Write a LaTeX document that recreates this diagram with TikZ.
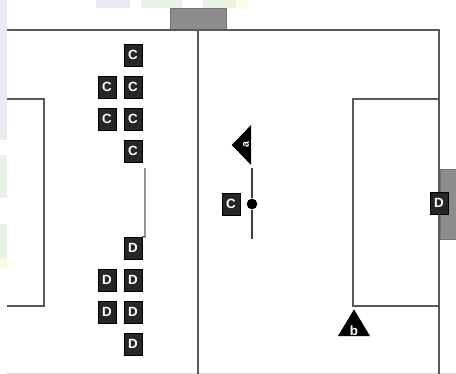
\documentclass[tikz,border=0pt]{standalone}
\usepackage{fontspec}
\setmainfont{Liberation Sans}
\definecolor{paleblue}{RGB}{232,236,240}
\definecolor{palegreen}{RGB}{232,243,228}
\definecolor{paleyellow}{RGB}{253,250,228}
\tikzset{
    player/.style={draw=black, fill=black!85, text=white, inner sep=0pt, minimum width=13.5pt, minimum height=16.5pt, font=\bfseries},
    pitchline/.style={draw=black!65, line width=1.1pt},
    post/.style={fill=black!45, draw=black!55, line width=0.5pt},
    official/.style={draw=none, fill=black, text=white, isosceles triangle, isosceles triangle stretches=true, inner sep=0pt}
}
\usetikzlibrary{shapes.geometric}
\begin{document}
\begin{tikzpicture}[x=0.75pt, y=-0.75pt]
    \useasboundingbox (0,0) rectangle (456,374);

    % Faint patches at the edges
    \fill[paleblue] (96,0) rectangle (130,8);
    \fill[palegreen] (141,0) rectangle (182,8);
    \fill[palegreen] (203,0) rectangle (236,8);
    \fill[paleyellow] (236,0) rectangle (248,8);
    \fill[paleblue] (0,0) rectangle (7,140);
    \fill[palegreen] (0,155) rectangle (7,198);
    \fill[palegreen] (0,224) rectangle (7,258);
    \fill[paleyellow] (0,258) rectangle (7,268);
    \draw[black!15] (7,373.5) -- (456,373.5);

    % Posts
    \draw[post] (170,8) rectangle (226,30);
    \draw[post] (440,169) rectangle (456,239);

    % Court
    \draw[pitchline] (7,30) -- (439,30) -- (439,374);
    \draw[pitchline] (198,30) -- (198,374);
    \draw[pitchline] (7,99) -- (44,99) -- (44,306) -- (7,306);
    \draw[pitchline] (439,99) -- (353,99) -- (353,306) -- (439,306);

    % Team C
    \node[player] (c1) at (133,55) {C};
    \node[player] (c2) at (107,87) {C};
    \node[player] (c3) at (133,87) {C};
    \node[player] (c4) at (107,119) {C};
    \node[player] (c5) at (133,119) {C};
    \node[player] (c6) at (133,151) {C};
    \node[player] (c7) at (231,204) {C};

    % Team D
    \node[player] (d1) at (133,248) {D};
    \node[player] (d2) at (107,280) {D};
    \node[player] (d3) at (133,280) {D};
    \node[player] (d4) at (107,312) {D};
    \node[player] (d5) at (133,312) {D};
    \node[player] (d6) at (133,344) {D};
    \node[player] (d7) at (439,203) {D};

    % Officials
    \node[official, shape border rotate=180, minimum height=14.5pt, minimum width=30pt, anchor=center] (refa) at (243,145) {};
    \node[text=white, font=\bfseries\footnotesize, rotate=90] (refatext) at (246,145) {a};
    \node[official, shape border rotate=90, minimum height=20pt, minimum width=24pt, anchor=center] (refb) at (354,327) {};
    \node[text=white, font=\bfseries] (refbtext) at (354,331) {b};

    % Lines
    \coordinate (linetop) at (145,168);
    \coordinate (linebottom) at (145,237);
    \draw[black!65, line width=1pt] (linetop) -- (linebottom) -- (d1.north east);
    \node[fill=black, circle, inner sep=0pt, minimum size=8pt] (ball) at (252,204) {};
    \coordinate (nettop) at (252,168);
    \coordinate (netbottom) at (252,239);
    \draw[black!75, line width=1pt] (nettop) -- (ball) -- (netbottom);
\end{tikzpicture}
\end{document}
